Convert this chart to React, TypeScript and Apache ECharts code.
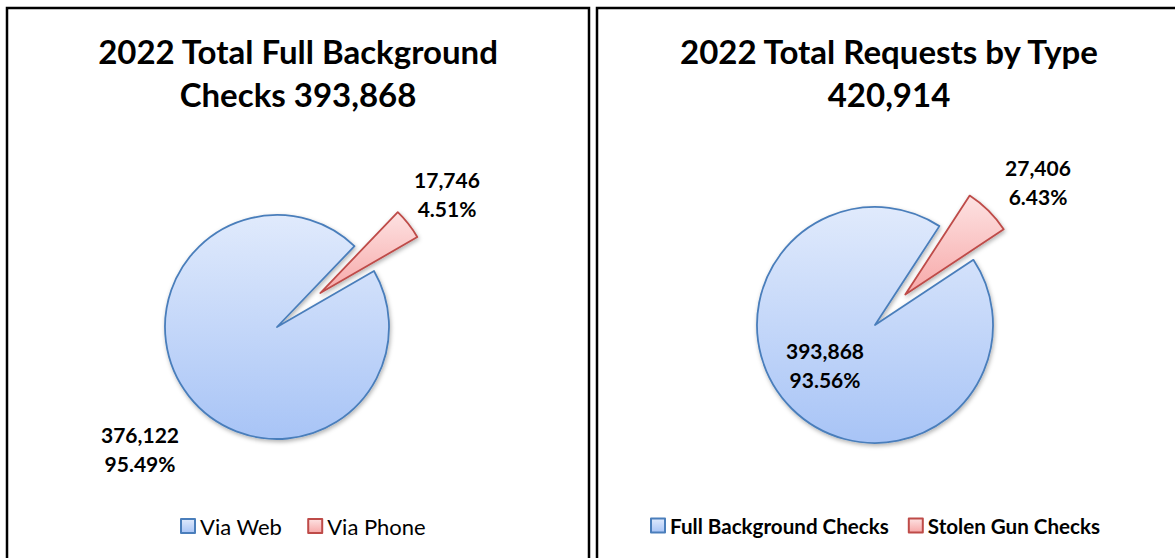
import React, { useEffect, useRef } from "react";
import * as echarts from "echarts";

const leftTitle = "2022 Total Full Background\nChecks 393,868";
const rightTitle = "2022 Total Requests by Type\n420,914";
const leftNames = ["Via Web", "Via Phone"];
const leftValues = [376122, 17746];
const leftPercents = ["95.49%", "4.51%"];
const rightNames = ["Full Background Checks", "Stolen Gun Checks"];
const rightValues = [393868, 27406];
const rightPercents = ["93.56%", "6.43%"];

const FONT = "Lato, 'Open Sans', sans-serif";

const blueFill = new echarts.graphic.LinearGradient(0, 0, 0, 1, [
  { offset: 0, color: "#e0eafc" },
  { offset: 1, color: "#a8c4f6" },
]);
const redFill = new echarts.graphic.LinearGradient(0, 0, 0, 1, [
  { offset: 0, color: "#fde2e2" },
  { offset: 1, color: "#f7a8a8" },
]);
const blueStroke = "#4a7ebb";
const redStroke = "#be4b48";

function fmt(n: number) {
  return n.toLocaleString("en-US");
}

export default function App() {
  const ref = useRef<HTMLDivElement>(null);
  useEffect(() => {
    if (!ref.current) return;
    const chart = echarts.init(ref.current, undefined, { renderer: "svg" });

    // label anchor positions (layout only)
    const leftLabelPos = [
      [140, 449],
      [447, 194],
    ];
    const rightLabelPos = [
      [825, 365],
      [1038, 182],
    ];

    const labelText = (values: number[], pcts: string[], i: number) =>
      fmt(values[i]) + "\n" + pcts[i];

    const labelGraphic = (
      values: number[],
      pcts: string[],
      pos: number[][]
    ) =>
      values.map((_, i) => ({
        type: "text",
        x: pos[i][0],
        y: pos[i][1],
        z: 100,
        style: {
          text: labelText(values, pcts, i),
          align: "center",
          verticalAlign: "middle",
          fontFamily: FONT,
          fontWeight: "bold",
          fontSize: 21,
          lineHeight: 29,
          fill: "#000",
        },
      }));

    const makeData = (names: string[], values: number[]) =>
      names.map((n, i) => ({
        name: n,
        value: values[i],
        selected: i === 1,
        itemStyle: {
          color: i === 0 ? blueFill : redFill,
          borderColor: i === 0 ? blueStroke : redStroke,
          borderWidth: 1.8,
          shadowBlur: 4,
          shadowColor: "rgba(0,0,0,0.3)",
          shadowOffsetY: 2,
          shadowOffsetX: 1,
        },
      }));

    const titleStyle = {
      fontFamily: FONT,
      fontWeight: "bold" as const,
      fontSize: 33,
      lineHeight: 43,
      color: "#000",
    };

    chart.setOption({
      animation: false,
      title: [
        {
          text: leftTitle,
          left: 293,
          top: 24,
          textAlign: "center",
          textStyle: titleStyle,
        },
        {
          text: rightTitle,
          left: 884,
          top: 24,
          textAlign: "center",
          textStyle: titleStyle,
        },
      ],
      legend: [
        {
          data: leftNames,
          left: 175,
          top: 510,
          itemWidth: 14,
          itemHeight: 14,
          itemGap: 25,
          icon: "rect",
          textStyle: { fontFamily: FONT, fontSize: 22, color: "#000" },
          selectedMode: false,
        },
        {
          data: rightNames,
          left: 645,
          top: 510,
          itemWidth: 14,
          itemHeight: 14,
          itemGap: 19,
          icon: "rect",
          textStyle: {
            fontFamily: FONT,
            fontSize: 20.6,
            fontWeight: "bold",
            color: "#000",
          },
          selectedMode: false,
        },
      ],
      graphic: [
        {
          type: "rect",
          shape: { x: 7, y: 8, width: 582, height: 560 },
          style: { fill: "none", stroke: "#000", lineWidth: 2.5 },
        },
        {
          type: "rect",
          shape: { x: 597, y: 8, width: 600, height: 560 },
          style: { fill: "none", stroke: "#000", lineWidth: 2.5 },
        },
        ...labelGraphic(leftValues, leftPercents, leftLabelPos),
        ...labelGraphic(rightValues, rightPercents, rightLabelPos),
      ],
      series: [
        {
          type: "pie",
          center: [277, 327],
          radius: 112,
          startAngle: 30,
          clockwise: true,
          selectedMode: "single",
          selectedOffset: 55,
          data: makeData(leftNames, leftValues),
          label: { show: false },
          labelLine: { show: false },
          emphasis: { disabled: true },
        },
        {
          type: "pie",
          center: [875, 325],
          radius: 118,
          startAngle: 33.5,
          clockwise: true,
          selectedMode: "single",
          selectedOffset: 43,
          data: makeData(rightNames, rightValues),
          label: { show: false },
          labelLine: { show: false },
          emphasis: { disabled: true },
        },
      ],
    });
    return () => chart.dispose();
  }, []);
  return (
    <div
      ref={ref}
      style={{
        position: "absolute",
        left: 0,
        top: 0,
        width: 1175,
        height: 558,
        background: "#fff",
      }}
    />
  );
}
